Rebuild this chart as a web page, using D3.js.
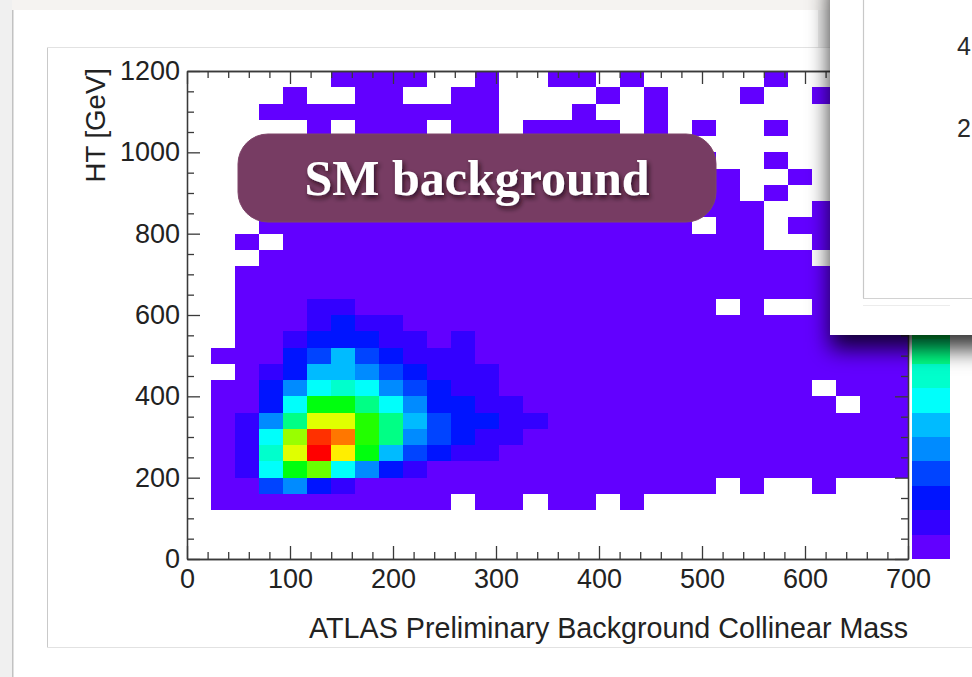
<!DOCTYPE html>
<html>
<head>
<meta charset="utf-8">
<script src="https://cdn.jsdelivr.net/npm/d3@7"></script>
<style>
  html, body { margin: 0; padding: 0; background: #fff; }
  svg { display: block; }
</style>
</head>
<body>
<svg id="chart" width="972" height="677"></svg>
<script>
// ---- histogram definition -------------------------------------------------
const massRange = [0, 700];     // collinear mass [GeV]
const htRange = [0, 1200];      // HT [GeV]
const massBins = 30;
const htBins = 30;

const xTicks = [0, 100, 200, 300, 400, 500, 600, 700];
const yTicks = [0, 200, 400, 600, 800, 1000, 1200];

// Bin contents (colour level 1..20, 0 = empty). One row per HT bin,
// starting from the lowest HT bin; 30 mass bins per row.
const counts = [
  [0,0,0,0,0,0,0,0,0,0, 0,0,0,0,0,0,0,0,0,0, 0,0,0,0,0,0,0,0,0,0],
  [0,0,0,0,0,0,0,0,0,0, 0,0,0,0,0,0,0,0,0,0, 0,0,0,0,0,0,0,0,0,0],
  [0,0,0,0,0,0,0,0,0,0, 0,0,0,0,0,0,0,0,0,0, 0,0,0,0,0,0,0,0,0,0],
  [0,1,1,1,1,1,1,1,1,1, 1,0,1,1,0,1,1,0,1,0, 0,0,0,0,0,0,0,0,0,0],
  [0,1,1,4,5,3,2,1,1,1, 1,1,1,1,1,1,1,1,1,1, 1,1,0,1,0,0,1,0,0,0],
  [0,1,2,7,11,13,7,5,3,2, 1,1,1,1,1,1,1,1,1,1, 1,1,1,1,1,1,1,1,1,1],
  [0,1,2,8,15,20,16,11,6,4, 3,2,2,1,1,1,1,1,1,1, 1,1,1,1,1,1,1,1,1,1],
  [0,1,2,7,14,19,18,12,9,5, 4,3,2,2,1,1,1,1,1,1, 1,1,1,1,1,1,1,1,1,1],
  [0,1,2,5,9,15,15,12,9,6, 4,3,3,2,2,1,1,1,1,1, 1,1,1,1,1,1,1,1,1,1],
  [0,1,1,3,7,11,11,9,7,5, 3,3,2,2,1,1,1,1,1,1, 1,1,1,1,1,1,1,0,1,1],
  [0,1,1,3,5,7,8,7,5,4, 3,2,2,1,1,1,1,1,1,1, 1,1,1,1,1,1,0,1,1,1],
  [0,0,1,2,3,6,6,5,4,3, 2,2,2,1,1,1,1,1,1,1, 1,1,1,1,1,1,1,1,1,1],
  [0,1,1,1,3,4,6,4,3,2, 2,2,1,1,1,1,1,1,1,1, 1,1,1,1,1,1,1,1,1,1],
  [0,0,1,1,2,3,3,3,2,2, 1,2,1,1,1,1,1,1,1,1, 1,1,1,1,1,1,1,1,1,1],
  [0,0,1,1,1,2,3,2,2,1, 1,1,1,1,1,1,1,1,1,1, 1,1,1,1,1,1,1,1,1,1],
  [0,0,1,1,1,2,2,1,1,1, 1,1,1,1,1,1,1,1,1,1, 1,1,0,1,0,0,1,1,1,1],
  [0,0,1,1,1,1,1,1,1,1, 1,1,1,1,1,1,1,1,1,1, 1,1,1,1,1,1,1,1,1,1],
  [0,0,1,1,1,1,1,1,1,1, 1,1,1,1,1,1,1,1,1,1, 1,1,1,1,1,1,1,1,1,1],
  [0,0,0,1,1,1,1,1,1,1, 1,1,1,1,1,1,1,1,1,1, 1,1,1,1,1,1,0,1,0,1],
  [0,0,1,0,1,1,1,1,1,1, 1,1,1,1,1,1,1,1,1,1, 1,1,1,1,0,0,1,1,1,0],
  [0,0,0,1,1,1,1,1,1,1, 1,1,1,1,1,1,1,1,1,1, 1,0,1,1,0,1,1,0,1,0],
  [0,0,0,0,1,1,1,1,1,1, 1,1,1,1,1,1,1,1,1,1, 1,1,1,1,0,0,1,0,0,1],
  [0,0,0,1,1,1,1,1,0,1, 1,1,1,1,1,1,1,1,1,1, 1,1,1,0,1,0,0,0,1,0],
  [0,0,0,1,1,1,1,1,1,1, 0,1,1,1,1,1,1,0,1,1, 1,1,1,0,0,1,0,0,0,0],
  [0,0,0,1,1,0,1,1,1,1, 1,1,1,1,1,1,1,1,0,1, 0,1,0,0,1,0,0,0,0,1],
  [0,0,0,1,1,1,1,1,1,0, 1,1,1,1,0,1,1,1,0,1, 1,0,0,0,0,0,0,0,0,0],
  [0,0,0,0,0,1,0,1,1,1, 0,1,1,0,1,1,1,1,0,1, 0,1,0,0,1,0,0,0,1,0],
  [0,0,0,1,1,1,1,1,1,1, 1,1,1,0,0,0,1,0,0,1, 0,0,0,0,0,0,0,0,0,0],
  [0,0,0,0,1,0,0,1,1,0, 0,1,1,0,0,0,0,1,0,1, 0,0,0,1,0,0,1,0,0,1],
  [0,0,0,0,0,0,1,1,1,1, 0,0,1,0,0,1,1,0,1,0, 0,0,0,0,1,0,0,0,1,0]
];

// 20-level violet -> red palette
const palette = [
  "#6200ff", "#3300ff", "#0014ff", "#0044ff", "#008bff",
  "#00bbff", "#00fffb", "#00ffcc", "#00ff85", "#00ff55",
  "#00ff0e", "#22ff00", "#69ff00", "#99ff00", "#e0ff00",
  "#ffee00", "#ffa700", "#ff7700", "#ff3000", "#ff0000"
];

const xTitle = "ATLAS Preliminary Background Collinear Mass";
const yTitle = "HT [GeV]";
const tagText = "SM background";
const sideLabels = ["4", "2"];

// ---- layout ---------------------------------------------------------------
const svg = d3.select("#chart");
const W = 972, H = 677;
const plot = { left: 187, right: 908, top: 71, bottom: 559 };
const font = "'Liberation Sans', Arial, Helvetica, sans-serif";

const x = d3.scaleLinear().domain(massRange).range([plot.left, plot.right]);
const y = d3.scaleLinear().domain(htRange).range([plot.bottom, plot.top]);
const color = d3.scaleThreshold().domain(d3.range(2, 21)).range(palette);
const zScale = d3.scaleLinear().domain([0, palette.length]).range([plot.bottom, plot.top]);
const intFmt = d3.format("d");

const defs = svg.append("defs");
const panelShadow = defs.append("filter").attr("id", "panelShadow")
  .attr("x", "-30%").attr("y", "-30%").attr("width", "160%").attr("height", "160%");
panelShadow.append("feDropShadow").attr("dx", 0).attr("dy", 14)
  .attr("stdDeviation", 11).attr("flood-color", "#000").attr("flood-opacity", 0.8);
const textShadow = defs.append("filter").attr("id", "textShadow")
  .attr("x", "-10%").attr("y", "-30%").attr("width", "120%").attr("height", "160%");
textShadow.append("feDropShadow").attr("dx", 2).attr("dy", 3)
  .attr("stdDeviation", 2.5).attr("flood-color", "#1a0010").attr("flood-opacity", 0.75);

// ---- slide background -----------------------------------------------------
svg.append("rect").attr("width", W).attr("height", H).attr("fill", "#fff");
svg.append("rect").attr("width", W).attr("height", 10).attr("fill", "#f5f3f1");
svg.append("rect").attr("width", 12).attr("height", H).attr("fill", "#f0f0f0");
svg.append("line").attr("x1", 12.75).attr("x2", 12.75).attr("y1", 10).attr("y2", H)
  .attr("stroke", "#c2c2c2").attr("stroke-width", 1.5);
svg.append("rect").attr("x", 47.5).attr("y", 47.5).attr("width", 960).attr("height", 600)
  .attr("fill", "none").attr("stroke", "#e2e2e2");
svg.append("line").attr("x1", 47.5).attr("x2", 47.5).attr("y1", 48).attr("y2", 647)
  .attr("stroke", "#c9c9c9");

// ---- 2D histogram cells ---------------------------------------------------
const dx = (massRange[1] - massRange[0]) / massBins;
const dy = (htRange[1] - htRange[0]) / htBins;
const cells = [];
counts.forEach((row, j) => row.forEach((v, i) => {
  if (v > 0) cells.push({ m0: massRange[0] + i * dx, h0: htRange[0] + j * dy, v });
}));

svg.append("g").attr("shape-rendering", "crispEdges")
  .selectAll("rect").data(cells).join("rect")
  .attr("x", d => x(d.m0))
  .attr("y", d => y(d.h0 + dy))
  .attr("width", d => x(d.m0 + dx) - x(d.m0))
  .attr("height", d => y(d.h0) - y(d.h0 + dy))
  .attr("fill", d => color(d.v));

// ---- colour scale bar -----------------------------------------------------
svg.append("g").attr("shape-rendering", "crispEdges")
  .selectAll("rect").data(palette).join("rect")
  .attr("x", 912).attr("width", 38)
  .attr("y", (c, k) => zScale(k + 1))
  .attr("height", (c, k) => zScale(k) - zScale(k + 1))
  .attr("fill", c => c);

// ---- axes -----------------------------------------------------------------
const xMinor = d3.range(0, 701, 20).filter(v => v % 100 !== 0);
const yMinor = d3.range(0, 1201, 50).filter(v => v % 200 !== 0);
const major = 13, minor = 7;

function styleAxis(g) {
  g.selectAll("path, line").attr("stroke", "#3a3a3a").attr("stroke-width", 1.3);
  g.selectAll("text").attr("fill", "#222").attr("font-family", font).attr("font-size", 27);
}

svg.append("g").attr("transform", `translate(0,${plot.bottom})`)
  .call(d3.axisBottom(x).tickValues(xTicks).tickFormat(intFmt)
    .tickSizeInner(-major).tickSizeOuter(0).tickPadding(10))
  .call(styleAxis);
svg.append("g").attr("transform", `translate(0,${plot.bottom})`)
  .call(d3.axisBottom(x).tickValues(xMinor).tickSizeInner(-minor).tickSizeOuter(0).tickFormat(""))
  .call(styleAxis);
svg.append("g").attr("transform", `translate(0,${plot.top})`)
  .call(d3.axisTop(x).tickValues(xTicks).tickSizeInner(-major).tickSizeOuter(0).tickFormat(""))
  .call(styleAxis);
svg.append("g").attr("transform", `translate(0,${plot.top})`)
  .call(d3.axisTop(x).tickValues(xMinor).tickSizeInner(-minor).tickSizeOuter(0).tickFormat(""))
  .call(styleAxis);

svg.append("g").attr("transform", `translate(${plot.left},0)`)
  .call(d3.axisLeft(y).tickValues(yTicks).tickFormat(intFmt)
    .tickSizeInner(-major).tickSizeOuter(0).tickPadding(7))
  .call(styleAxis);
svg.append("g").attr("transform", `translate(${plot.left},0)`)
  .call(d3.axisLeft(y).tickValues(yMinor).tickSizeInner(-minor).tickSizeOuter(0).tickFormat(""))
  .call(styleAxis);
svg.append("g").attr("transform", `translate(${plot.right},0)`)
  .call(d3.axisRight(y).tickValues(yTicks).tickSizeInner(-major).tickSizeOuter(0).tickFormat(""))
  .call(styleAxis);
svg.append("g").attr("transform", `translate(${plot.right},0)`)
  .call(d3.axisRight(y).tickValues(yMinor).tickSizeInner(-minor).tickSizeOuter(0).tickFormat(""))
  .call(styleAxis);

// axis titles
svg.append("text")
  .attr("x", plot.right).attr("y", 638)
  .attr("text-anchor", "end")
  .attr("font-family", font).attr("font-size", 28.7).attr("fill", "#222")
  .text(xTitle);
svg.append("text")
  .attr("transform", `translate(105,${plot.top - 3}) rotate(-90)`)
  .attr("text-anchor", "end")
  .attr("font-family", font).attr("font-size", 27.6).attr("fill", "#222")
  .text(yTitle);

// ---- tag ------------------------------------------------------------------
const tag = svg.append("g");
tag.append("rect")
  .attr("x", 238).attr("y", 134).attr("width", 478).attr("height", 88)
  .attr("rx", 30).attr("ry", 30)
  .attr("fill", "#773c63").attr("stroke", "#7e4469").attr("stroke-width", 1);
tag.append("text")
  .attr("x", 477).attr("y", 195)
  .attr("text-anchor", "middle")
  .attr("font-family", "'Liberation Serif', 'DejaVu Serif', serif")
  .attr("font-weight", "bold").attr("font-size", 50)
  .attr("fill", "#fff").attr("filter", "url(#textShadow)")
  .text(tagText);

// ---- overlapping panel (top right) ----------------------------------------
svg.append("rect").attr("x", 818).attr("y", 10).attr("width", 12).attr("height", 37)
  .attr("fill", "#efefef");
const panel = svg.append("g");
panel.append("rect")
  .attr("x", 830).attr("y", -30).attr("width", 180).attr("height", 365)
  .attr("fill", "#fff").attr("filter", "url(#panelShadow)");
panel.append("line").attr("x1", 863.5).attr("x2", 863.5).attr("y1", 0).attr("y2", 298)
  .attr("stroke", "#c8c8c8").attr("stroke-width", 1.2);
panel.append("line").attr("x1", 863).attr("x2", W).attr("y1", 298.5).attr("y2", 298.5)
  .attr("stroke", "#d2d2d2").attr("stroke-width", 1.2);
panel.append("line").attr("x1", 863).attr("x2", 950).attr("y1", 305.5).attr("y2", 305.5)
  .attr("stroke", "#ececec").attr("stroke-width", 1);
panel.selectAll("text.side").data(sideLabels).join("text")
  .attr("class", "side")
  .attr("x", 957).attr("y", (d, k) => 55 + k * 82)
  .attr("font-family", font).attr("font-size", 25).attr("fill", "#2a2a2a")
  .text(d => d);
</script>
</body>
</html>
